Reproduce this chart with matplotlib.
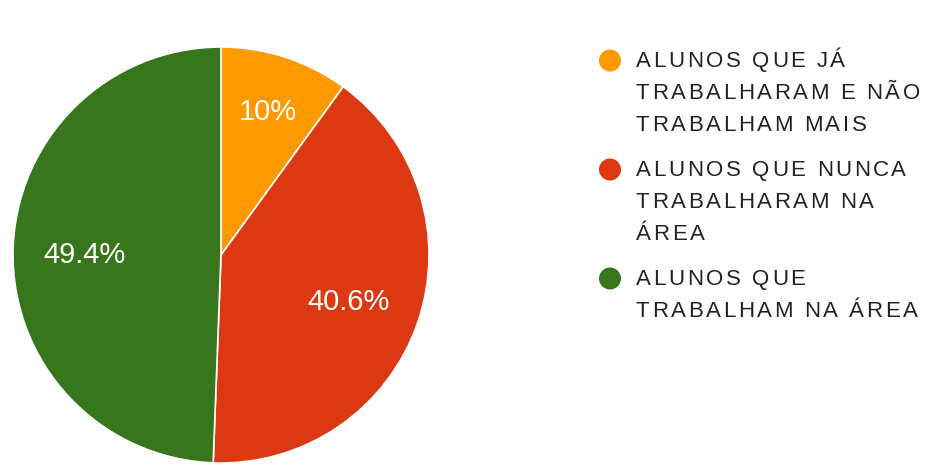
import matplotlib
matplotlib.use("Agg")
import matplotlib.pyplot as plt
import numpy as np
from matplotlib import font_manager, ft2font
from matplotlib.patches import Circle

# Survey breakdown
categories = [
    "ALUNOS QUE JÁ TRABALHARAM E NÃO TRABALHAM MAIS",
    "ALUNOS QUE NUNCA TRABALHARAM NA ÁREA",
    "ALUNOS QUE TRABALHAM NA ÁREA",
]
legend_lines = [
    ["ALUNOS QUE JÁ", "TRABALHARAM E NÃO", "TRABALHAM MAIS"],
    ["ALUNOS QUE NUNCA", "TRABALHARAM NA", "ÁREA"],
    ["ALUNOS QUE", "TRABALHAM NA ÁREA"],
]
shares = [10.0, 40.6, 49.4]
pct_labels = ["10%", "40.6%", "49.4%"]
colors = ["#ff9900", "#dc3912", "#38761d"]

W, H, DPI = 925, 466, 100
FAMILY = "Liberation Sans"

fig = plt.figure(figsize=(W / DPI, H / DPI), dpi=DPI)
fig.patch.set_facecolor("white")

# Pie, clockwise from 12 o'clock
R_PX = 208
cx_px, cy_px = 221, 255
ax = fig.add_axes([(cx_px - R_PX) / W, (H - cy_px - R_PX) / H,
                   2 * R_PX / W, 2 * R_PX / H])
wedges, _ = ax.pie(shares, colors=colors, startangle=90, counterclock=False,
                   radius=1.0,
                   wedgeprops=dict(edgecolor="white", linewidth=1.2))
ax.set_xlim(-1, 1)
ax.set_ylim(-1, 1)
ax.set_aspect("equal")
ax.axis("off")

# Percentage labels, vertically centred on their cap height
PCT_SIZE = 21
pct_cap = 0.716 * PCT_SIZE * DPI / 72 / R_PX
label_dist = [0.734, 0.648, 0.654]
for w, lab, d in zip(wedges, pct_labels, label_dist):
    ang = np.deg2rad((w.theta1 + w.theta2) / 2)
    ax.text(d * np.cos(ang), d * np.sin(ang) - pct_cap / 2, lab,
            ha="center", va="baseline", color="white",
            fontsize=PCT_SIZE, family=FAMILY)

# Legend drawn in pixel space
lax = fig.add_axes([0, 0, 1, 1])
lax.set_xlim(0, W)
lax.set_ylim(H, 0)
lax.axis("off")

LEG_SIZE = 16
prop = font_manager.FontProperties(family=FAMILY, size=LEG_SIZE)
ft = ft2font.FT2Font(font_manager.findfont(prop))
ft.set_size(LEG_SIZE, DPI)


def tracked_text(x, y, s, spacing, color):
    """Draw s starting at (x, baseline y) with extra letter spacing."""
    pos = x
    for ch in s:
        lax.text(pos, y, ch, fontproperties=prop, color=color,
                 ha="left", va="baseline")
        g = ft.load_char(ord(ch))
        pos += g.linearHoriAdvance / 65536 + spacing


text_x = 636
dot_x = 610
line_step = 32
entry_gap = 45
cap = 0.716 * LEG_SIZE * DPI / 72
y = 59.5
for col, lines in zip(colors, legend_lines):
    lax.add_patch(Circle((dot_x, y + 1), 11, color=col, lw=0))
    for i, line in enumerate(lines):
        tracked_text(text_x, y + cap / 2, line, 2.6, "#222222")
        if i < len(lines) - 1:
            y += line_step
    y += entry_gap

fig.savefig("out.png", dpi=DPI, facecolor="white")
